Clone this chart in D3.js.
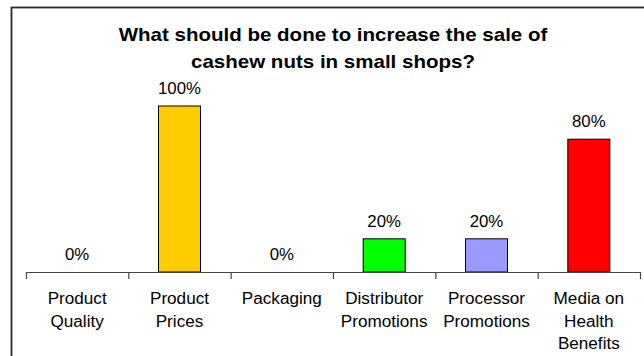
<!DOCTYPE html>
<html>
<head>
<meta charset="utf-8">
<script src="https://cdn.jsdelivr.net/npm/d3@7"></script>
<style>
  html, body { margin: 0; padding: 0; background: #fff; }
  svg { display: block; font-family: Arial, "Liberation Sans", sans-serif; }
</style>
</head>
<body>
<svg id="chart" width="644" height="356"></svg>
<script>
// Survey answers: share of small shops naming each measure
const categories = [
  ["Product", "Quality"],
  ["Product", "Prices"],
  ["Packaging"],
  ["Distributor", "Promotions"],
  ["Processor", "Promotions"],
  ["Media on", "Health", "Benefits"]
];
const values = [0, 100, 0, 20, 20, 80];
const barColors = ["#FFCC00", "#FFCC00", "#FFCC00", "#00FF00", "#9999FF", "#FF0000"];
const titleLines = [
  "What should be done to increase the sale of",
  "cashew nuts in small shops?"
];

const svg = d3.select("#chart");
const W = 644, H = 356;

// Outer chart-area frame
svg.append("rect")
  .attr("x", 11.5).attr("y", 7.5)
  .attr("width", W + 20).attr("height", H + 20)
  .attr("fill", "none").attr("stroke", "#2a2a2a").attr("stroke-width", 1.8);

const plot = { left: 26, right: 640, top: 106, bottom: 272 };

const band = d3.scaleBand()
  .domain(d3.range(categories.length))
  .range([plot.left, plot.right]);

const y = d3.scaleLinear().domain([0, 100]).range([plot.bottom, plot.top]);

// Slight horizontal widening of text runs
function stretch(factor) {
  return sel => sel.each(function () {
    const len = this.getComputedTextLength();
    d3.select(this)
      .attr("textLength", len * factor)
      .attr("lengthAdjust", "spacingAndGlyphs");
  });
}

// Title
svg.append("g").selectAll("text")
  .data(titleLines)
  .join("text")
  .attr("x", 333)
  .attr("y", (d, i) => 41 + i * 27)
  .attr("text-anchor", "middle")
  .attr("font-size", 19)
  .attr("font-weight", "bold")
  .attr("fill", "#000")
  .text(d => d)
  .call(stretch(1.08));

// Bars
svg.append("g").selectAll("rect")
  .data(values)
  .join("rect")
  .attr("x", (d, i) => band(i) + band.bandwidth() / 2 - 21)
  .attr("width", 42)
  .attr("y", d => y(d))
  .attr("height", d => y(0) - y(d))
  .attr("fill", (d, i) => barColors[i])
  .attr("stroke", "#000")
  .attr("stroke-width", 1)
  .attr("display", d => d > 0 ? null : "none");

// Value labels
svg.append("g").selectAll("text")
  .data(values)
  .join("text")
  .attr("x", (d, i) => band(i) + band.bandwidth() / 2)
  .attr("y", d => y(d) - 12)
  .attr("text-anchor", "middle")
  .attr("font-size", 16)
  .attr("fill", "#000")
  .text(d => d + "%")
  .call(stretch(1.05));

// Category axis with boundary ticks
const axisG = svg.append("g");
axisG.append("line")
  .attr("x1", plot.left).attr("x2", plot.right + 1)
  .attr("y1", plot.bottom + 0.5).attr("y2", plot.bottom + 0.5)
  .attr("stroke", "#444").attr("stroke-width", 1.2);
const bounds = d3.range(categories.length + 1).map(i =>
  i < categories.length ? band(i) : band(categories.length - 1) + band.bandwidth());
axisG.selectAll("line.tick")
  .data(bounds)
  .join("line")
  .attr("class", "tick")
  .attr("x1", d => d + 0.5).attr("x2", d => d + 0.5)
  .attr("y1", plot.bottom).attr("y2", plot.bottom + 7)
  .attr("stroke", "#444").attr("stroke-width", 1.2);

// Category labels, one text element per line
const labelLines = categories.flatMap((lines, i) => lines.map((line, j) => ({ line, i, j })));
axisG.selectAll("text.cat")
  .data(labelLines)
  .join("text")
  .attr("class", "cat")
  .attr("text-anchor", "middle")
  .attr("font-size", 16)
  .attr("fill", "#000")
  .attr("x", d => band(d.i) + band.bandwidth() / 2)
  .attr("y", d => 304 + d.j * 22.5)
  .text(d => d.line)
  .call(stretch(1.07));
</script>
</body>
</html>
